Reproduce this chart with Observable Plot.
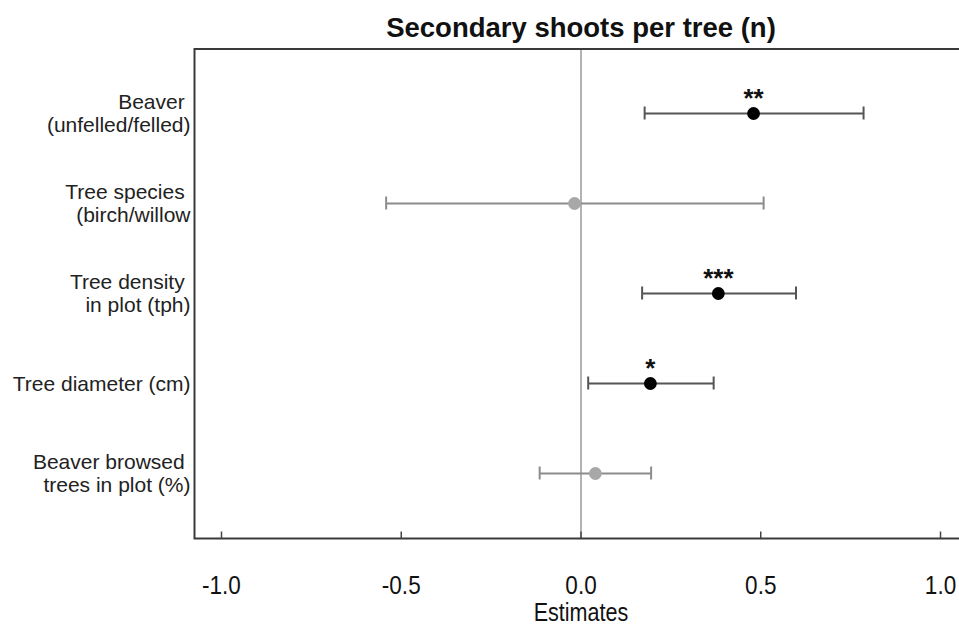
<!DOCTYPE html>
<html>
<head>
<meta charset="utf-8">
<script src="https://cdn.jsdelivr.net/npm/d3@7"></script>
<script src="https://cdn.jsdelivr.net/npm/@observablehq/plot@0.6"></script>
<style>
  html, body { margin: 0; padding: 0; background: #fff; }
  #chart svg { overflow: hidden; display: block; }
</style>
</head>
<body>
<div id="chart"></div>
<script>
const title = "Secondary shoots per tree (n)";
const xLabel = "Estimates";
const predictors = [
  "Beaver\u00a0\n(unfelled/felled)",
  "Tree species\u00a0\n(birch/willow",
  "Tree density\u00a0\nin plot (tph)",
  "Tree diameter (cm)",
  "Beaver browsed\u00a0\ntrees in plot (%)"
];
const estimates = [0.480, -0.018, 0.382, 0.193, 0.040];
const lower     = [0.177, -0.542, 0.170, 0.020, -0.115];
const upper     = [0.786, 0.508, 0.598, 0.369, 0.195];
const stars     = ["**", "", "***", "*", ""];
const significant = [true, false, true, true, false];
const xTicks = [-1.0, -0.5, 0.0, 0.5, 1.0];

const rows = predictors.map((p, i) => ({
  predictor: p, est: estimates[i], lo: lower[i], hi: upper[i],
  star: stars[i], sig: significant[i]
}));

const sans = "'Liberation Sans', Arial, Helvetica, sans-serif";
const barColor = d => d.sig ? "#555" : "#8c8c8c";
const tickFmt = d => d.toFixed(1);

const chart = Plot.plot({
  width: 959,
  height: 628,
  marginLeft: 194,
  marginRight: -8,
  marginTop: 48.5,
  marginBottom: 90,
  style: { fontFamily: sans, background: "#fff" },
  x: { domain: [-1.0751, 1.0751], axis: null },
  y: { domain: predictors, type: "point", padding: 0.694, axis: null },
  marks: [
    Plot.ruleX([0], { stroke: "#9a9a9a", strokeWidth: 1.5 }),
    Plot.frame({ stroke: "#3a3a3a", strokeWidth: 2 }),
    Plot.tickX(xTicks, { x: d => d, insetTop: 483, stroke: "#444", strokeWidth: 1.5 }),
    Plot.text(xTicks, {
      x: d => d, frameAnchor: "bottom", lineAnchor: "middle", dy: 47,
      text: tickFmt, fontSize: 25, fill: "#111"
    }),
    Plot.text([xLabel], {
      frameAnchor: "bottom", lineAnchor: "middle", dy: 74, text: d => d,
      fontSize: 26, fill: "#111"
    }),
    Plot.text([title], {
      frameAnchor: "top", lineAnchor: "middle", dy: -20.8, text: d => d,
      fontSize: 27.5, fontWeight: "bold", fill: "#111"
    }),
    Plot.text(rows, {
      y: "predictor", text: "predictor", frameAnchor: "left", textAnchor: "end",
      dx: -4, fontSize: 21, lineHeight: 1.1, fill: "#222"
    }),
    Plot.link(rows, {
      x1: "lo", x2: "hi", y1: "predictor", y2: "predictor",
      stroke: barColor, strokeWidth: 2
    }),
    Plot.ruleX(rows, {
      x: "lo", y1: "predictor", y2: "predictor", insetTop: -6.5, insetBottom: -6.5,
      stroke: barColor, strokeWidth: 2
    }),
    Plot.ruleX(rows, {
      x: "hi", y1: "predictor", y2: "predictor", insetTop: -6.5, insetBottom: -6.5,
      stroke: barColor, strokeWidth: 2
    }),
    Plot.dot(rows, {
      x: "est", y: "predictor", r: 6.4,
      fill: d => d.sig ? "#000" : "#a8a8a8", stroke: null
    }),
    Plot.text(rows, {
      x: "est", y: "predictor", text: "star", dy: -14.5,
      fontSize: 26, fontWeight: "bold", fill: "#111"
    })
  ]
});
document.getElementById("chart").appendChild(chart);

// narrow the axis texts to mimic the condensed face of the original
const tickStrings = new Set(xTicks.map(tickFmt));
d3.select(chart).selectAll("text").each(function() {
  const s = this.textContent;
  let k = null;
  if (tickStrings.has(s)) k = 0.9;
  else if (s === xLabel) k = 0.83;
  if (k) {
    const w = this.getComputedTextLength();
    this.setAttribute("textLength", (w * k).toFixed(1));
    this.setAttribute("lengthAdjust", "spacingAndGlyphs");
  }
});
</script>
</body>
</html>
